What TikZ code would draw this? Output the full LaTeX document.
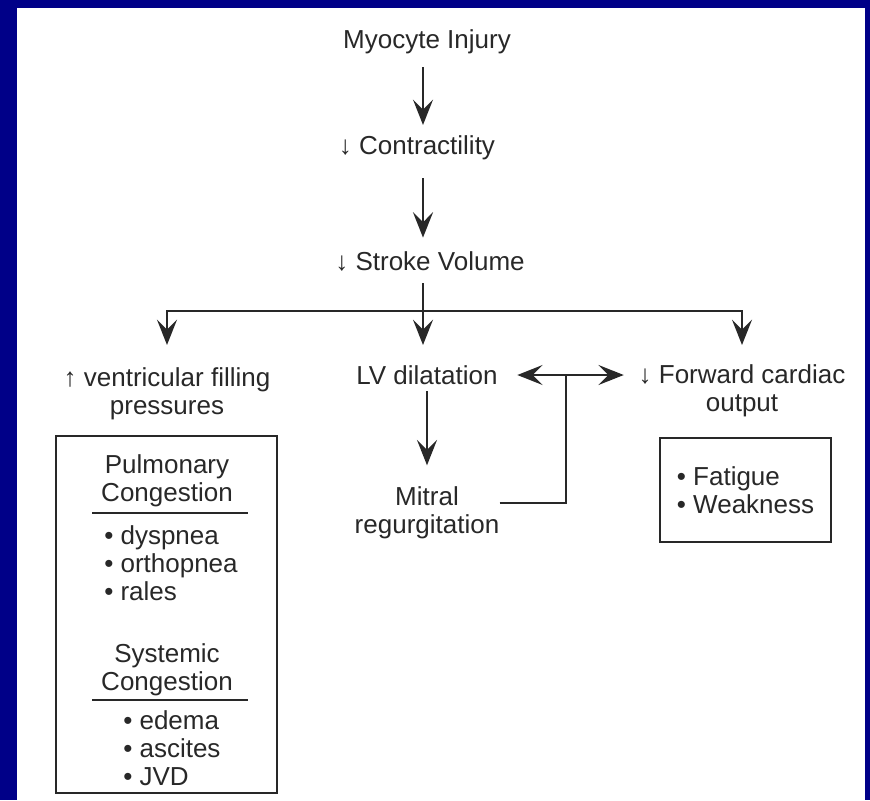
\documentclass[tikz,border=0pt]{standalone}
\usepackage{fontspec}
\setmainfont{Liberation Sans}
\usetikzlibrary{arrows.meta,calc}
\definecolor{slideblue}{RGB}{0,0,136}
\definecolor{ink}{RGB}{40,40,40}
\tikzset{
  lbl/.style={inner sep=0pt, align=center, text=ink, font=\fontsize{19.5}{21}\selectfont},
  lst/.style={inner sep=0pt, align=left, text=ink, font=\fontsize{19.5}{21}\selectfont},
  arr/.style={draw=ink, line width=1.8pt, -{Stealth[length=19pt,width=15pt,inset=7.5pt]}},
  ln/.style={draw=ink, line width=1.7pt},
  box/.style={draw=ink, line width=1.7pt, inner sep=0pt},
}
\begin{document}
\begin{tikzpicture}[x=0.75pt, y=-0.75pt]
% slide frame
\fill[slideblue] (0,0) rectangle (870,800);
\fill[white] (17,8) rectangle (865,800);

% main chain
\node[lbl] (injury) at (427,42) {Myocyte Injury};
\node[lbl] (contract) at (417,148) {↓ Contractility};
\node[lbl] (stroke) at (430,261) {↓ Stroke Volume};

% three branches
\node[lbl] (vfp) at (167,394) {↑ ventricular filling\\pressures};
\node[lbl] (lvd) at (427,375) {LV dilatation};
\node[lbl] (fco) at (742,391) {↓ Forward cardiac\\output};
\node[lbl] (mitral) at (427,513) {Mitral\\regurgitation};

% congestion box
\node[box, minimum width=165.75pt, minimum height=267.75pt] (congbox) at (166.5,614.5) {};
\node[lbl] (pulm) at (167,481) {Pulmonary\\Congestion};
\node[lst, anchor=west] (pulmlist) at (104,563) {• dyspnea\\• orthopnea\\• rales};
\node[lbl] (syst) at (167,670) {Systemic\\Congestion};
\node[lst, anchor=west] (systlist) at (123,748) {• edema\\• ascites\\• JVD};
\draw[ln] (92,513) -- (248,513);
\draw[ln] (92,700) -- (248,700);

% symptom box
\node[box, lst, minimum width=128.25pt, minimum height=78pt] (fatbox) at (745.5,490) {• Fatigue\\• Weakness};

% connectors
\coordinate (spine) at (423,0);
\coordinate (junction) at (423,311);
\coordinate (tiprow) at (0,345);
\coordinate (elbow) at (566,375);
\draw[arr, shorten <=9.75pt, shorten >=8pt] (injury.south -| spine) -- (contract.north -| spine);
\draw[arr, shorten <=13.5pt, shorten >=10pt] (contract.south -| spine) -- (stroke.north -| spine);
\draw[arr, shorten <=9pt] (stroke.south -| spine) -- (spine |- tiprow);
\draw[arr] (junction) -| (vfp.north |- tiprow);
\draw[arr] (junction) -| (fco.north |- tiprow);
\draw[arr, shorten <=5pt, shorten >=16pt] (lvd.south) -- (mitral.north);
\draw[ln] ([yshift=7.5pt]mitral.east) -| (elbow);
\draw[arr, shorten >=14.6pt] (elbow) -- (lvd.east);
\draw[arr, shorten >=11pt] (elbow) -- (elbow -| fco.west);
\end{tikzpicture}
\end{document}
